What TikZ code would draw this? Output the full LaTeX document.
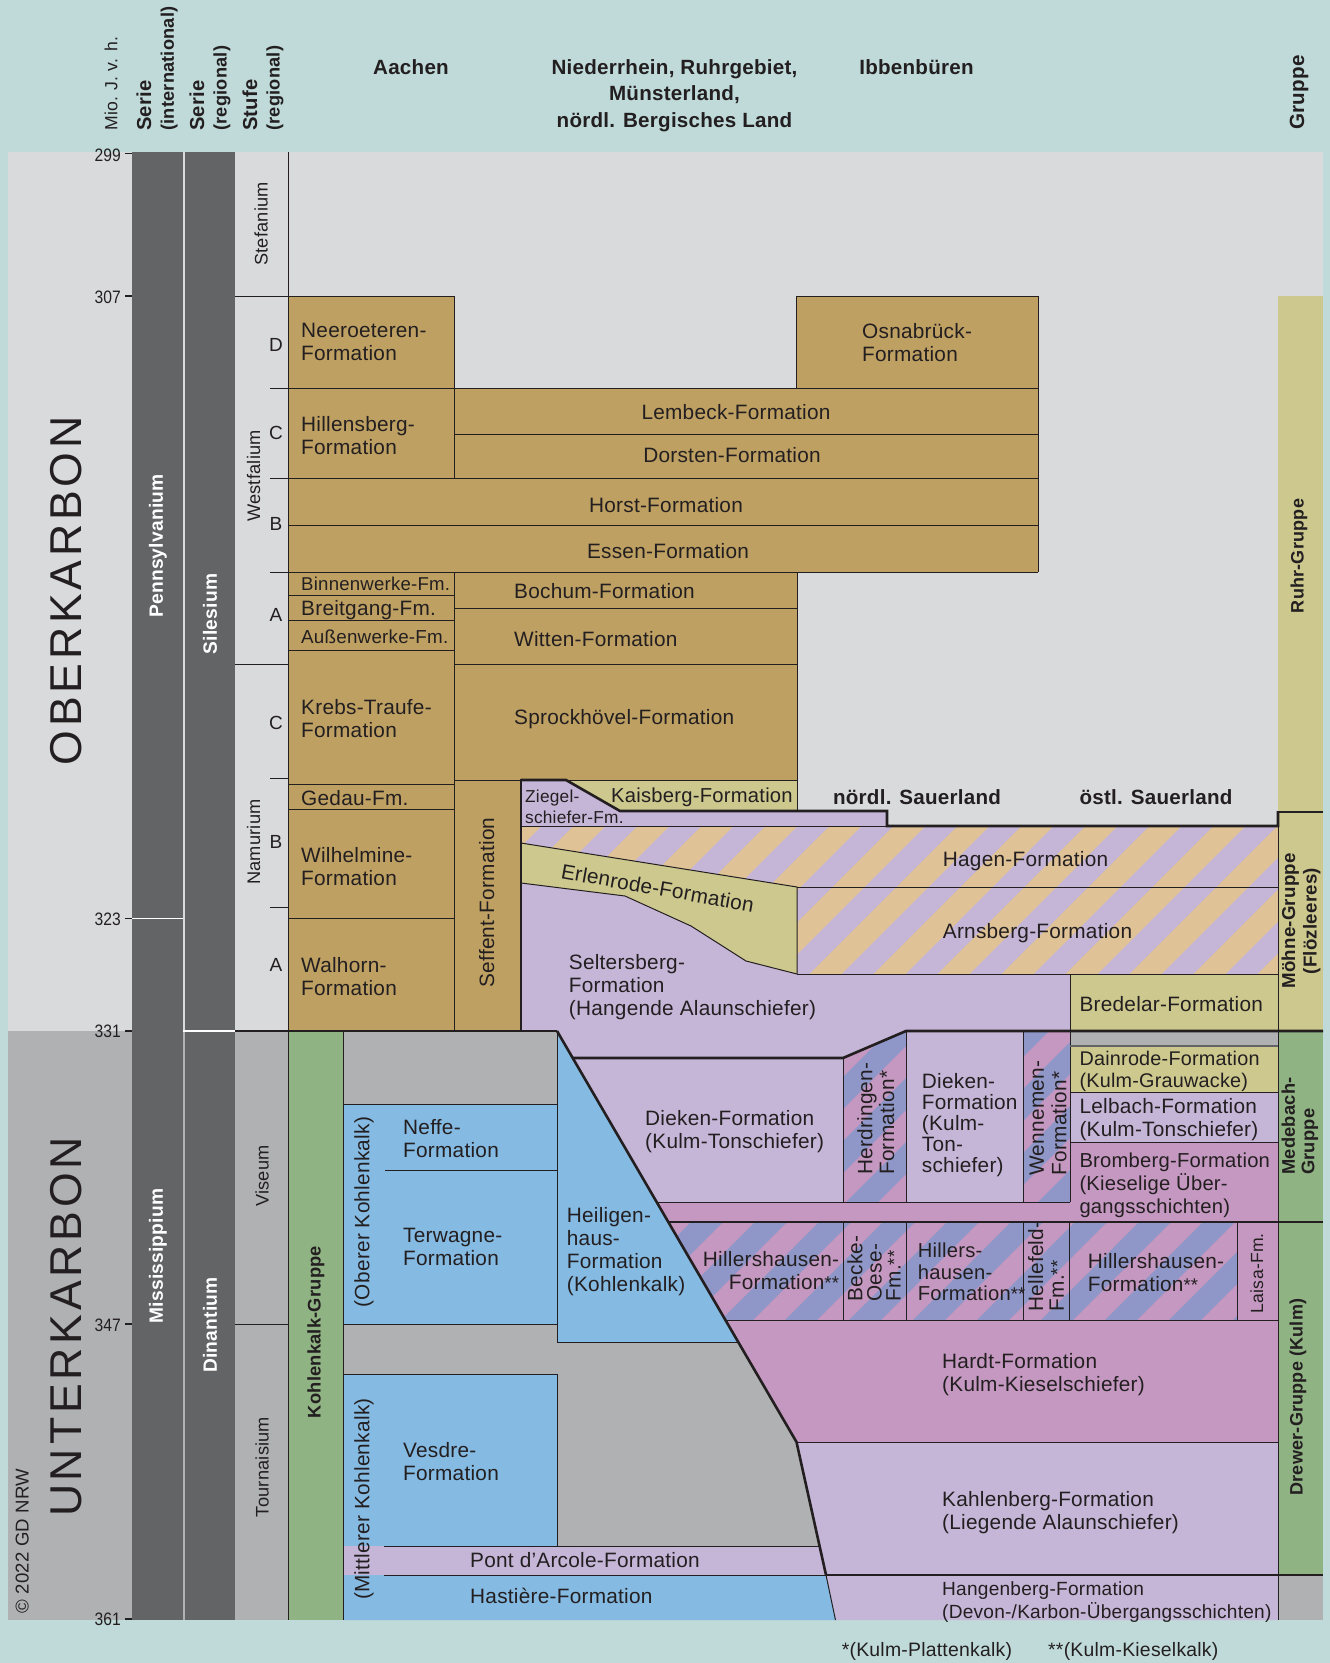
\documentclass[tikz,border=0pt]{standalone}
\usepackage{fontspec}
\setmainfont[LetterSpace=1.2]{Liberation Sans}
\newfontfamily\condfont[FakeStretch=0.87]{Liberation Sans}
\newfontfamily\widefont[LetterSpace=8.5]{Liberation Sans}
\definecolor{bgc}{HTML}{BFDAD9}
\definecolor{lgray}{HTML}{D9DADB}
\definecolor{mgray}{HTML}{B0B1B2}
\definecolor{dgray}{HTML}{636466}
\definecolor{tan}{HTML}{BEA063}
\definecolor{khaki}{HTML}{CCC88E}
\definecolor{lilac}{HTML}{C5B6D8}
\definecolor{orng}{HTML}{DFC296}
\definecolor{pink}{HTML}{C498C1}
\definecolor{peri}{HTML}{8E97C8}
\definecolor{blu}{HTML}{85BAE2}
\definecolor{grn}{HTML}{90B384}
\definecolor{ink}{HTML}{231F20}
\newcommand{\stripefill}[4]{%
 \begin{scope}
 \clip #1;
 \fill[#2] (480,770) rectangle (1300,1350);
 \foreach \k in {19,...,42}{%
  \pgfmathsetmacro{\cc}{64*\k+#4}
  \fill[#3] ({\cc-780},780)--({\cc+32-780},780)--({\cc+32-1340},1340)--({\cc-1340},1340)--cycle;
 }
 \end{scope}}
\newcommand{\astr}{{\fontsize{18.5}{23}\selectfont **}}
\tikzset{
 thin line/.style={draw=ink,line width=1pt,line cap=butt},
 thick line/.style={draw=ink,line width=2.6pt,line join=miter},
 labbase/.style={font=\fontsize{20.8}{23}\selectfont,text=ink,inner sep=0pt,align=left,anchor=west},
 lab/.style={labbase,yshift=-1.8pt},
 labc/.style={labbase,anchor=center,align=center,yshift=-1.8pt},
 rot/.style={labbase,rotate=90},
 rotc/.style={labbase,anchor=center,align=center,rotate=90},
 stage/.style={rotc,font=\fontsize{18.2}{20}\selectfont},
 letter/.style={labbase,anchor=center,align=center,font=\fontsize{19}{20}\selectfont},
 head/.style={labbase,anchor=center,align=center,font=\bfseries\fontsize{20.6}{26.6}\selectfont},
 age/.style={labbase,anchor=east,font=\condfont\fontsize{18}{20}\selectfont},
 sys/.style={rotc,font=\widefont\fontsize{44.6}{46}\selectfont},
 ser/.style={rotc,font=\bfseries\fontsize{19.2}{22}\selectfont,text=white},
 grp/.style={rotc,font=\bfseries\fontsize{18}{21.5}\selectfont},
 colh/.style={rot,font=\bfseries\fontsize{18.2}{22.7}\selectfont},
}
\begin{document}
\begin{tikzpicture}[x=1pt,y=-1pt]
\useasboundingbox (0,0) rectangle (1330,1663);
\fill[bgc] (0,0) rectangle (1330,1663);
\fill[lgray] (8,152) rectangle (1323,1031);
\fill[mgray] (8,1031) rectangle (1323,1620);
% dark columns
\fill[dgray] (132,152) rectangle (183,1620);
\fill[dgray] (185,152) rectangle (235,1620);
\draw[white,line width=1.6pt] (132,918.5)--(183,918.5);
\draw[white,line width=1.8pt] (183,1031)--(235,1031);
% group column
\fill[khaki] (1278,296) rectangle (1323,1031);
\fill[grn] (1278,1031) rectangle (1323,1575);
\fill[grn] (288,1031) rectangle (343,1620);
% coal tan
\fill[tan] (288,296) rectangle (454,1031);
\fill[tan] (454,388) rectangle (1038,572);
\fill[tan] (288,478.5) rectangle (1038,572);
\fill[tan] (796.5,296) rectangle (1038,388);
\fill[tan] (454,572) rectangle (797,780);
\fill[tan] (454,780) rectangle (521,1031);
% lilac seltersberg
\fill[lilac] (521,883)--(625,896)--(691,926)--(746,961)--(797,974)--(1278,974)--(1278,1031)--(906,1031)--(843,1058)--(573,1058)--(557,1031)--(521,1031)--cycle;
% hatched
\stripefill{(521,826)--(1278,826)--(1278,974)--(797,974)--(797,887)--(521,843)--cycle}{lilac}{orng}{55.7}
\fill[khaki] (521,843)--(797,887)--(797,974)--(746,961)--(691,926)--(625,896)--(521,883)--cycle;
\fill[lilac] (521,780)--(566,780)--(620,811)--(887,811)--(887,826)--(521,826)--cycle;
\fill[khaki] (566,780)--(797,780)--(797,811)--(620,811)--cycle;
\fill[khaki] (1070,974) rectangle (1278,1031);
% lower right
\fill[lilac] (573,1058)--(843,1058)--(843,1202)--(656.5,1202)--cycle;
\fill[pink] (656.5,1202)--(1070,1202)--(1070,1142)--(1278,1142)--(1278,1442)--(796.5,1442)--cycle;
\stripefill{(843,1058)--(906,1031)--(906,1202)--(843,1202)--cycle}{pink}{peri}{0}
\fill[lilac] (906,1031) rectangle (1023.5,1202);
\stripefill{(1023.5,1031)--(1070,1031)--(1070,1202)--(1023.5,1202)--cycle}{pink}{peri}{0}
\stripefill{(668,1222)--(1237,1222)--(1237,1320)--(725,1320)--cycle}{pink}{peri}{57}
\fill[khaki] (1070,1046) rectangle (1278,1092);
\fill[lilac] (1070,1092) rectangle (1278,1142);
\fill[lilac] (796.5,1442)--(1278,1442)--(1278,1575)--(826,1575)--cycle;
\fill[lilac] (826,1575)--(1278,1575)--(1278,1620)--(835.5,1620)--cycle;
% blue
\fill[blu] (343,1104) rectangle (557,1324);
\fill[blu] (343,1374) rectangle (557,1546);
\fill[blu] (557,1031)--(738,1342.5)--(557,1342.5)--cycle;
\fill[lilac] (343,1546)--(819.5,1546)--(826,1575)--(343,1575)--cycle;
\fill[blu] (343,1575)--(826,1575)--(835.5,1620)--(343,1620)--cycle;
% ---- lines ----
\foreach \yy in {153.5,296,918.5,1031,1324,1619}{\draw[thin line,line width=1.4pt] (125,\yy)--(132,\yy);}
% stage
\draw[thin line] (288,152)--(288,1620);
\draw[thin line] (235,296)--(454,296);
\draw[thin line] (235,664)--(288,664);
\draw[thin line] (235,1324)--(288,1324);
\foreach \yy in {778,907}{\draw[thin line] (270,\yy)--(288,\yy);}
% aachen / ruhr
\draw[thin line] (454,296)--(454,478.5);
\draw[thin line] (270,388)--(1038,388);
\draw[thin line] (454,434)--(1038,434);
\draw[thin line] (270,478.5)--(1038,478.5);
\draw[thin line] (288,525)--(1038,525);
\draw[thin line] (270,572)--(1038,572);
\draw[thin line] (796.5,296)--(1038,296)--(1038,572);
\draw[thin line] (796.5,296)--(796.5,388);
\draw[thin line] (454,572)--(454,1031);
\draw[thin line] (288,595)--(454,595);
\draw[thin line] (288,620.3)--(454,620.3);
\draw[thin line] (288,650.3)--(454,650.3);
\draw[thin line] (454,608.7)--(797,608.7);
\draw[thin line] (454,664)--(797,664);
\draw[thin line] (288,784.3)--(454,784.3);
\draw[thin line] (288,809.3)--(454,809.3);
\draw[thin line] (288,918.5)--(454,918.5);
\draw[thin line] (454,780)--(521,780);
\draw[thin line] (797,572)--(797,811);
\draw[thin line] (566,780)--(797,780);
% sauerland part
\draw[thin line] (521,826)--(887,826);
\draw[thin line] (521,843)--(797,887)--(797,974);
\draw[thin line] (521,883)--(625,896)--(691,926)--(746,961)--(797,974);
\draw[thin line] (797,887)--(1278,887);
\draw[thin line] (797,974)--(1278,974);
\draw[thin line] (1070,974)--(1070,1202);
\draw[thick line] (521,780)--(566,780)--(620,811)--(887,811)--(887,826)--(1278,826)--(1278,811);
\draw[thick line] (521,779)--(521,1031);
\draw[thick line] (235,1031)--(557,1031);
\draw[thick line] (573,1058)--(843,1058)--(906,1031)--(1323,1031);
% blue lines
\draw[thin line] (343,1031)--(343,1620);
\draw[thin line] (557,1031)--(557,1342.5)--(738,1342.5);
\draw[thin line] (343,1104)--(557,1104);
\draw[thin line] (385,1170.5)--(557,1170.5);
\draw[thin line] (343,1324)--(557,1324);
\draw[thin line] (343,1374.5)--(557,1374.5)--(557,1546);
\draw[thin line] (384,1546)--(819.5,1546);
\draw[thin line] (384,1575)--(826,1575);
% right block
\draw[thin line] (843,1058)--(843,1202);
\draw[thin line] (906.5,1031)--(906.5,1202);
\draw[thin line] (1023.5,1031)--(1023.5,1202);
\draw[thin line] (656.5,1202)--(1070,1202);
\draw[thick line,line width=2pt] (668,1222)--(1323,1222);
\draw[thin line] (843,1222)--(843,1320);
\draw[thin line] (906.5,1222)--(906.5,1320);
\draw[thin line] (1023.5,1222)--(1023.5,1320);
\draw[thin line] (1069.5,1222)--(1069.5,1320);
\draw[thin line] (1237.5,1222)--(1237.5,1320);
\draw[thin line] (725,1320)--(1278,1320);
\draw[thin line] (796.5,1442)--(1278,1442);
\draw[draw=dgray,line width=2pt] (1070,1046)--(1278,1046);
\draw[thin line] (1070,1092)--(1278,1092);
\draw[thin line] (1070,1142)--(1278,1142);
% group col
\draw[thin line] (1278,812)--(1278,1620);
\draw[thick line,line width=2pt] (1278,812)--(1323,812);
\draw[thick line] (826,1575)--(1323,1575);
% slant
\draw[thick line] (557,1031)--(796.5,1442)--(826,1575);
\draw[thin line] (826,1575)--(835.5,1620);
% ---- texts ----
\node[head] (haachen) at (411,66.7) {Aachen};
\node[head] (hniederrhein) at (674.5,95.5) {Niederrhein, Ruhrgebiet,\\Münsterland,\\nördl. Bergisches Land};
\node[head] (hibben) at (916.5,67) {Ibbenbüren};
\node[head,rotate=90,anchor=west] (hgruppe) at (1299,130) {Gruppe};
\node[rot,font=\fontsize{17.6}{20}\selectfont] (hmio) at (111,131) {Mio. J. v. h.};
\node[colh] (hserint) at (157,131) {{\fontsize{20.2}{22.7}\selectfont Serie}\\(international)};
\node[colh] (hserreg) at (210,131) {{\fontsize{20.2}{22.7}\selectfont Serie}\\(regional)};
\node[colh] (hstufe) at (263,131) {{\fontsize{20.2}{22.7}\selectfont Stufe}\\(regional)};
\node[head] (nordl) at (917,796.7) {nördl. Sauerland};
\node[head] (ostl) at (1156,796.7) {östl. Sauerland};
% ages
\node[age] (a299) at (121,155) {299};
\node[age] (a307) at (121,297) {307};
\node[age] (a323) at (121,919) {323};
\node[age] (a331) at (121,1031) {331};
\node[age] (a347) at (121,1325) {347};
\node[age] (a361) at (121,1619) {361};
% systems
\node[sys] (ober) at (66.5,591) {OBERKARBON};
\node[sys] (unter) at (66.5,1327) {UNTERKARBON};
\node[rotc,font=\fontsize{18.6}{20}\selectfont] (copyr) at (22.3,1541) {© 2022 GD NRW};
% series
\node[ser] (penn) at (158,546) {Pennsylvanium};
\node[ser] (siles) at (210,614) {Silesium};
\node[ser] (miss) at (158,1256) {Mississippium};
\node[ser] (dinant) at (210,1325) {Dinantium};
% stages
\node[stage] (stef) at (261,224) {Stefanium};
\node[stage] (westf) at (253.5,476) {Westfalium};
\node[stage] (namur) at (253.5,842) {Namurium};
\node[stage] (visea) at (262,1176) {Viseum};
\node[stage] (tourn) at (262,1467) {Tournaisium};
\node[letter] (ld) at (276,345) {D};
\node[letter] (lc) at (276,433) {C};
\node[letter] (lb) at (276,524) {B};
\node[letter] (la) at (276,615) {A};
\node[letter] (lc2) at (276,723) {C};
\node[letter] (lb2) at (276,842) {B};
\node[letter] (la2) at (276,965) {A};
% formations tan
\node[lab] (neer) at (301,340.5) {Neeroeteren-\\Formation};
\node[lab] (hill) at (301,434) {Hillensberg-\\Formation};
\node[lab,font=\fontsize{18.6}{23}\selectfont] (binn) at (301,582) {Binnenwerke-Fm.};
\node[lab] (breit) at (301,608) {Breitgang-Fm.};
\node[lab,font=\fontsize{18.8}{23}\selectfont] (ausse) at (301,634.5) {Außenwerke-Fm.};
\node[lab] (krebs) at (301,717) {Krebs-Traufe-\\Formation};
\node[lab] (gedau) at (301,796) {Gedau-Fm.};
\node[lab] (wilh) at (301,864.5) {Wilhelmine-\\Formation};
\node[lab] (walh) at (301,974.5) {Walhorn-\\Formation};
\node[labc] (lemb) at (736,410.5) {Lembeck-Formation};
\node[labc] (dorst) at (732,453.5) {Dorsten-Formation};
\node[labc] (horst) at (666,503) {Horst-Formation};
\node[labc] (essen) at (668,549.5) {Essen-Formation};
\node[lab] (osna) at (862,340.5) {Osnabrück-\\Formation};
\node[lab] (boch) at (514,589.7) {Bochum-Formation};
\node[lab] (witt) at (514,637) {Witten-Formation};
\node[lab] (sprock) at (514,717.7) {Sprockhövel-Formation};
\node[rotc] (seff) at (486.7,902.5) {Seffent-Formation};
% sauerland
\node[lab,font=\fontsize{17.3}{21}\selectfont] (zieg) at (525,805.5) {Ziegel-\\schiefer-Fm.};
\node[lab,font=\fontsize{20.2}{23}\selectfont] (kais) at (611,795) {Kaisberg-Formation};
\node[labbase,anchor=center,rotate=-10] (erlen) at (657.7,888) {Erlenrode-Formation};
\node[lab] (selt) at (568.7,985) {Seltersberg-\\Formation\\(Hangende Alaunschiefer)};
\node[lab] (hagen) at (942.7,859.3) {Hagen-Formation};
\node[lab] (arns) at (942.7,931) {Arnsberg-Formation};
\node[lab] (bred) at (1079.3,1002) {Bredelar-Formation};
\node[lab] (dieka) at (645,1129.5) {Dieken-Formation\\(Kulm-Tonschiefer)};
\node[rot,font=\fontsize{20.8}{21.7}\selectfont] (herd) at (875.8,1175) {Herdringen-\\Formation*};
\node[lab,font=\fontsize{20.8}{21}\selectfont] (diekb) at (921.7,1123.3) {Dieken-\\Formation\\(Kulm-\\Ton-\\schiefer)};
\node[rot,font=\fontsize{20.8}{22.6}\selectfont] (wenn) at (1048,1175.7) {Wennemen-\\Formation*};
\node[lab,font=\fontsize{19.8}{22}\selectfont] (dain) at (1079.3,1070) {Dainrode-Formation\\(Kulm-Grauwacke)};
\node[lab] (lelb) at (1079.3,1117.5) {Lelbach-Formation\\(Kulm-Tonschiefer)};
\node[lab,font=\fontsize{20.2}{23}\selectfont] (brom) at (1079.3,1183) {Bromberg-Formation\\(Kieselige Über-\\gangsschichten)};
\node[lab] (heil) at (566.7,1250) {Heiligen-\\haus-\\Formation\\(Kohlenkalk)};
\node[lab,anchor=east,align=right] (hilla) at (839.3,1268.7) {Hillershausen-\\Formation\astr};
\node[rot,font=\fontsize{20.8}{19.2}\selectfont] (beck) at (874,1301.7) {Becke-\\Oese-\\Fm.\astr};
\node[lab,font=\fontsize{20.2}{21.6}\selectfont] (hillb) at (917.7,1270) {Hillers-\\hausen-\\Formation\astr};
\node[rot,font=\fontsize{20.8}{20.7}\selectfont] (helle) at (1046,1311.7) {Hellefeld-\\Fm.\astr};
\node[lab] (hillc) at (1087.7,1270.5) {Hillershausen-\\Formation\astr};
\node[rot,font=\fontsize{17.6}{20}\selectfont] (laisa) at (1256.7,1313.3) {Laisa-Fm.};
\node[lab] (hardt) at (942,1373) {Hardt-Formation\\(Kulm-Kieselschiefer)};
\node[lab] (kahl) at (942,1511) {Kahlenberg-Formation\\(Liegende Alaunschiefer)};
\node[lab,font=\fontsize{19.1}{23}\selectfont] (hang) at (942,1600) {Hangenberg-Formation\\(Devon-/Karbon-Übergangsschichten)};
% aachen lower
\node[rotc,font=\bfseries\fontsize{18.3}{21}\selectfont] (kohlg) at (316,1332) {Kohlenkalk-Gruppe};
\node[rotc] (oberer) at (364,1212) {(Oberer Kohlenkalk)};
\node[rotc] (mittl) at (364,1499) {(Mittlerer Kohlenkalk)};
\node[lab] (neffe) at (403,1136.7) {Neffe-\\Formation};
\node[lab] (terw) at (403,1245.5) {Terwagne-\\Formation};
\node[lab] (vesd) at (403,1460) {Vesdre-\\Formation};
\node[lab] (pont) at (470,1558) {Pont d’Arcole-Formation};
\node[lab] (hast) at (470,1594) {Hastière-Formation};
% groups
\node[grp] (ruhr) at (1299,556) {Ruhr-Gruppe};
\node[grp,font=\bfseries\fontsize{18.7}{21.5}\selectfont] (moehne) at (1301,921) {Möhne-Gruppe\\(Flözleeres)};
\node[rot,font=\bfseries\fontsize{18.3}{19.5}\selectfont] (medeb) at (1300,1175) {Medebach-\\Gruppe};
\node[grp] (drew) at (1298,1397) {Drewer-Gruppe (Kulm)};
% footnotes
\node[lab,font=\fontsize{19.4}{22}\selectfont] (fn1) at (841.6,1650) {*(Kulm-Plattenkalk)};
\node[lab,font=\fontsize{19.4}{22}\selectfont] (fn2) at (1048,1650) {**(Kulm-Kieselkalk)};
\end{tikzpicture}
\end{document}
